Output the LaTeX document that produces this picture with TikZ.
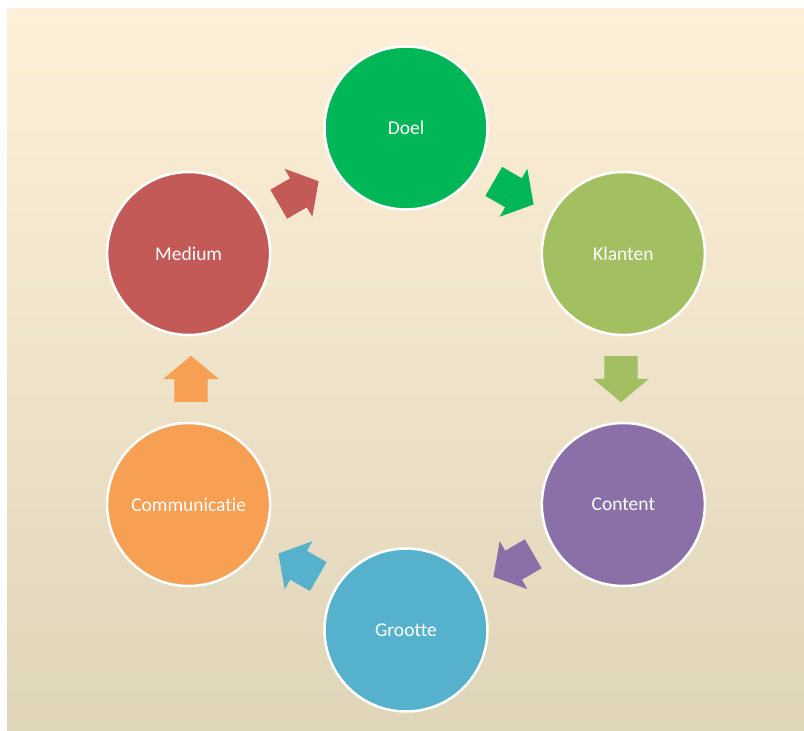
\documentclass[tikz,border=0pt]{standalone}
\usepackage{fontspec}
\setmainfont{Carlito}[Ligatures=NoCommon]
\usepackage{tikz}
\usetikzlibrary{calc,shapes.arrows}
\definecolor{doelgroen}{RGB}{0,182,86}
\definecolor{klantgroen}{RGB}{162,192,98}
\definecolor{contentpaars}{RGB}{138,111,168}
\definecolor{grootteblauw}{RGB}{86,178,204}
\definecolor{commoranje}{RGB}{247,159,82}
\definecolor{mediumrood}{RGB}{196,90,87}
\definecolor{achtergrondboven}{RGB}{254,240,216}
\definecolor{achtergrondmidden}{RGB}{245,236,215}
\definecolor{achtergrondonder}{RGB}{223,213,185}
\tikzset{
	stap/.style={% circles of the cycle
		draw=white,
		line width=2.5pt,
		shape=circle,
		minimum size=163pt,
		inner sep=0pt,
		text=white,
		font=\fontsize{19.5}{23}\selectfont
	},
	pijl/.style={% block arrows between the circles, placed by their tail
		shape=single arrow,
		draw=none,
		anchor=tail,
		minimum width=55pt,
		minimum height=46pt,
		single arrow head extend=11pt,
		single arrow tip angle=100,
		inner xsep=0pt,
		inner ysep=16.5pt
	}
}
\begin{document}
\begin{tikzpicture}[x=1pt,y=1pt]
                        \useasboundingbox (0,0) rectangle (804,731);
                        \fill[white] (0,0) rectangle (804,731);
                        \shade[top color=achtergrondboven, middle color=achtergrondmidden, bottom color=achtergrondonder] (7,0) rectangle (804,722);
                        \coordinate (mid) at (406,352);
                        % the six steps
                        \node [stap, fill=doelgroen] (doel) at ($(mid)+(90:251)$) {Doel};
                        \node [stap, fill=klantgroen] (klanten) at ($(mid)+(30:251)$) {Klanten};
                        \node [stap, fill=contentpaars] (content) at ($(mid)+(-30:251)$) {Content};
                        \node [stap, fill=grootteblauw] (grootte) at ($(mid)+(-90:251)$) {Grootte};
                        \node [stap, fill=commoranje] (comm) at ($(mid)+(210:251)$) {Communicatie};
                        \node [stap, fill=mediumrood] (medium) at ($(mid)+(150:251)$) {Medium};
                        % arrows
                        \node [pijl, fill=doelgroen, rotate=-30] (pijl1) at ($(mid)+(60:215)+(150:23)$) {};
                        \node [pijl, fill=klantgroen, rotate=-90] (pijl2) at ($(mid)+(0:215)+(90:23)$) {};
                        \node [pijl, fill=contentpaars, rotate=-150] (pijl3) at ($(mid)+(-60:215)+(30:23)$) {};
                        \node [pijl, fill=grootteblauw, rotate=150] (pijl4) at ($(mid)+(240:215)+(330:23)$) {};
                        \node [pijl, fill=commoranje, rotate=90] (pijl5) at ($(mid)+(180:215)+(270:23)$) {};
                        \node [pijl, fill=mediumrood, rotate=30] (pijl6) at ($(mid)+(120:215)+(210:23)$) {};
                \end{tikzpicture}
\end{document}
